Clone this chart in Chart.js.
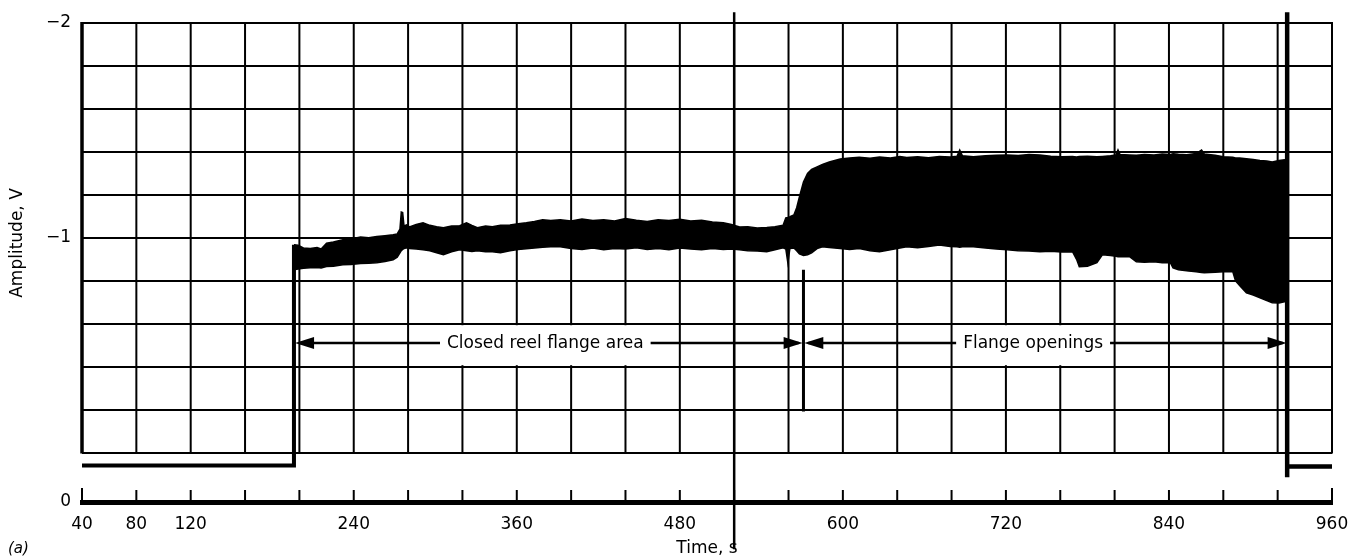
<!DOCTYPE html>
<html>
<head>
<meta charset="utf-8">
<script src="https://cdn.jsdelivr.net/npm/chart.js@4.4.1/dist/chart.umd.min.js"></script>
<style>
  html, body { margin: 0; padding: 0; background: #fff; }
  #wrap { width: 1363px; height: 559px; position: relative; }
</style>
</head>
<body>
<div id="wrap"><canvas id="c"></canvas></div>
<script>
// ---------- data ----------
const xMin = 40, xMax = 960, xStep = 40;
const xTickLabels = [40, 80, 120, 240, 360, 480, 600, 720, 840, 960];
const yMin = -2, yAxisBottom = 0.23;
const yGridValues = [-2, -1.8, -1.6, -1.4, -1.2, -1, -0.8, -0.6, -0.4, -0.2, 0];
const yLabelValues = [-2, -1, 0.23];
const yLabelTexts = ['\u22122', '\u22121', '0'];

// time (s) of the noisy band and its upper / lower envelope (V)
const bandTime = [196, 199, 203, 208, 213, 216, 220, 225, 232, 238, 245, 251, 257, 263, 269, 272, 274, 275, 276, 277, 279, 281, 286, 291, 296, 301, 306, 312, 318, 323, 327, 331, 337, 342, 348, 355, 361, 367, 373, 379, 385, 392, 400, 408, 416, 424, 432, 440, 448, 456, 464, 472, 480, 488, 496, 504, 512, 518, 524, 530, 537, 544, 550, 556, 558, 559.5, 561, 564, 566, 568, 571, 574, 577, 581, 585, 590, 598, 605, 612, 620, 627, 635, 642, 647, 655, 663, 671, 679, 684, 686, 688, 696, 705, 713, 721, 729, 737, 745, 753, 761, 769, 772, 774, 780, 787, 791, 797, 801, 802.5, 804, 811, 816, 822, 829, 835, 841, 843, 847, 853, 860, 864, 866, 874, 880, 887, 889, 892, 897, 902, 907, 912, 916, 921, 925, 927];
const bandTop = [-0.968, -0.965, -0.953, -0.950, -0.955, -0.948, -0.975, -0.980, -0.991, -0.995, -1.004, -1.000, -1.006, -1.010, -1.014, -1.018, -1.040, -1.120, -1.118, -1.055, -1.060, -1.051, -1.062, -1.070, -1.058, -1.052, -1.047, -1.055, -1.056, -1.070, -1.058, -1.047, -1.055, -1.051, -1.058, -1.060, -1.066, -1.070, -1.076, -1.084, -1.080, -1.084, -1.078, -1.088, -1.080, -1.084, -1.078, -1.090, -1.082, -1.076, -1.084, -1.080, -1.086, -1.078, -1.082, -1.074, -1.070, -1.062, -1.050, -1.052, -1.046, -1.048, -1.052, -1.058, -1.093, -1.095, -1.098, -1.107, -1.140, -1.190, -1.260, -1.300, -1.318, -1.330, -1.342, -1.353, -1.367, -1.372, -1.375, -1.370, -1.376, -1.372, -1.378, -1.374, -1.377, -1.373, -1.378, -1.376, -1.380, -1.409, -1.382, -1.377, -1.382, -1.384, -1.386, -1.383, -1.388, -1.386, -1.380, -1.377, -1.378, -1.376, -1.378, -1.380, -1.377, -1.379, -1.382, -1.386, -1.409, -1.388, -1.386, -1.384, -1.388, -1.385, -1.390, -1.388, -1.391, -1.389, -1.387, -1.392, -1.409, -1.390, -1.384, -1.377, -1.375, -1.372, -1.372, -1.368, -1.364, -1.360, -1.358, -1.353, -1.360, -1.363, -1.360];
const bandBottom = [-0.851, -0.855, -0.858, -0.860, -0.862, -0.860, -0.866, -0.868, -0.874, -0.876, -0.880, -0.882, -0.884, -0.890, -0.898, -0.910, -0.930, -0.940, -0.946, -0.950, -0.953, -0.950, -0.948, -0.944, -0.940, -0.930, -0.921, -0.935, -0.944, -0.940, -0.936, -0.940, -0.935, -0.935, -0.930, -0.940, -0.945, -0.949, -0.952, -0.956, -0.958, -0.958, -0.950, -0.946, -0.952, -0.944, -0.950, -0.948, -0.954, -0.946, -0.950, -0.944, -0.952, -0.948, -0.944, -0.950, -0.946, -0.948, -0.944, -0.940, -0.938, -0.935, -0.944, -0.953, -0.948, -0.884, -0.950, -0.953, -0.940, -0.925, -0.918, -0.921, -0.930, -0.950, -0.958, -0.955, -0.950, -0.946, -0.950, -0.940, -0.935, -0.944, -0.952, -0.958, -0.954, -0.960, -0.967, -0.960, -0.958, -0.956, -0.958, -0.958, -0.952, -0.948, -0.944, -0.940, -0.938, -0.935, -0.937, -0.934, -0.935, -0.900, -0.865, -0.868, -0.884, -0.921, -0.918, -0.914, -0.912, -0.912, -0.912, -0.888, -0.886, -0.888, -0.884, -0.884, -0.860, -0.851, -0.846, -0.842, -0.838, -0.837, -0.840, -0.842, -0.842, -0.800, -0.778, -0.744, -0.734, -0.721, -0.708, -0.698, -0.696, -0.702, -0.705];

// low level before the step, and the end of the record
const baseTime = [40, 196, 196];
const baseValue = [0.06, 0.06, -0.968];
const endTime = [927, 927, 927, 960];
const endValue = [-2.05, 0.115, 0.065, 0.065];
// centre marker and the split marker between the two areas
const centreTime = [520, 520];
const centreValue = [-2.05, 0.45];
const splitTime = [571, 571];
const splitValue = [-0.851, -0.191];

// span annotations
const spanFrom = [196.8, 571.6];
const spanTo = [570.4, 926.6];
const spanText = ['Closed reel flange area', 'Flange openings'];
const spanTextAt = [381, 740];
const spanLevel = -0.51;

// ---------- drawing ----------
const FONT = "'DejaVu Sans', 'Liberation Sans', sans-serif";
const INK = '#000';
const pts = (xs, ys) => xs.map((x, i) => ({ x: x, y: ys[i] }));

const scopeGrid = {
  id: 'scopeGrid',
  beforeDatasetsDraw(chart) {
    const { ctx } = chart;
    const x = chart.scales.x, y = chart.scales.y;
    const top = y.getPixelForValue(yMin), bottom = y.getPixelForValue(0);
    ctx.save();
    ctx.strokeStyle = INK;
    x.ticks.forEach((t, i) => {
      const px = x.getPixelForValue(t.value);
      ctx.lineWidth = i === 0 ? 3.5 : 2;
      ctx.beginPath();
      ctx.moveTo(px, top - 1);
      ctx.lineTo(px, bottom + 1);
      ctx.stroke();
    });
    ctx.restore();
  },
  afterDraw(chart) {
    const { ctx, chartArea } = chart;
    const x = chart.scales.x;
    ctx.save();
    ctx.strokeStyle = INK;
    ctx.lineWidth = 2;
    const n = x.ticks.length;
    x.ticks.forEach((t, i) => {
      const px = x.getPixelForValue(t.value);
      const len = (i === 0 || i === n - 1) ? 14 : 12;
      ctx.beginPath();
      ctx.moveTo(px, chartArea.bottom);
      ctx.lineTo(px, chartArea.bottom - len);
      ctx.stroke();
    });
    // axis title and panel letter
    ctx.fillStyle = INK;
    ctx.font = '17px ' + FONT;
    ctx.textAlign = 'center';
    ctx.textBaseline = 'middle';
    ctx.translate(18, 243);
    ctx.rotate(-Math.PI / 2);
    ctx.fillText('Amplitude, V', 0, 0);
    ctx.restore();
    ctx.save();
    ctx.fillStyle = INK;
    ctx.font = 'italic 15px ' + FONT;
    ctx.textAlign = 'left';
    ctx.textBaseline = 'middle';
    ctx.fillText('(a)', 8, 549);
    ctx.restore();
  }
};

const spans = {
  id: 'spans',
  afterDatasetsDraw(chart) {
    const { ctx } = chart;
    const x = chart.scales.x, y = chart.scales.y;
    const py = y.getPixelForValue(spanLevel);
    const boxTop = y.getPixelForValue(-0.6) + 1.5;
    const boxBot = y.getPixelForValue(-0.4) - 1.5;
    ctx.save();
    ctx.font = '17px ' + FONT;
    ctx.textAlign = 'center';
    ctx.textBaseline = 'middle';
    spanText.forEach((label, i) => {
      const x1 = x.getPixelForValue(spanFrom[i]);
      const x2 = x.getPixelForValue(spanTo[i]);
      const cx = x.getPixelForValue(spanTextAt[i]);
      const w = ctx.measureText(label).width;
      const gap = 7;
      const l = cx - w / 2 - gap, r = cx + w / 2 + gap;
      ctx.fillStyle = '#fff';
      ctx.fillRect(l, boxTop, r - l, boxBot - boxTop);
      ctx.strokeStyle = INK;
      ctx.lineWidth = 2.5;
      ctx.beginPath();
      ctx.moveTo(x1 + 4, py); ctx.lineTo(l, py);
      ctx.moveTo(r, py); ctx.lineTo(x2 - 4, py);
      ctx.stroke();
      ctx.fillStyle = INK;
      ctx.beginPath();
      ctx.moveTo(x1, py); ctx.lineTo(x1 + 19, py - 6); ctx.lineTo(x1 + 19, py + 6); ctx.closePath();
      ctx.fill();
      ctx.beginPath();
      ctx.moveTo(x2, py); ctx.lineTo(x2 - 19, py - 6); ctx.lineTo(x2 - 19, py + 6); ctx.closePath();
      ctx.fill();
      ctx.fillText(label, cx, py + 1);
    });
    ctx.restore();
  }
};

const lineSet = (label, data, width, extra) => Object.assign({
  label: label, data: data, borderColor: INK, borderWidth: width,
  pointRadius: 0, fill: false, tension: 0
}, extra || {});

new Chart(document.getElementById('c'), {
  type: 'line',
  data: {
    datasets: [
      lineSet('band top', pts(bandTime, bandTop), 1.5),
      lineSet('band bottom', pts(bandTime, bandBottom), 1.5, { fill: '-1', backgroundColor: INK }),
      lineSet('baseline', pts(baseTime, baseValue), 4),
      lineSet('end', pts(endTime, endValue), 4.5, { clip: false }),
      lineSet('centre', pts(centreTime, centreValue), 2.5, { clip: false }),
      lineSet('split', pts(splitTime, splitValue), 3)
    ]
  },
  options: {
    responsive: true,
    maintainAspectRatio: false,
    animation: false,
    layout: { padding: { left: 0, right: 31, top: 23, bottom: 0 } },
    plugins: { legend: { display: false }, tooltip: { enabled: false } },
    scales: {
      x: {
        type: 'linear', min: xMin, max: xMax,
        ticks: {
          stepSize: xStep, autoSkip: false, maxRotation: 0, padding: 12,
          color: INK, font: { family: FONT, size: 17 },
          callback: v => xTickLabels.includes(v) ? String(v) : ''
        },
        grid: { display: true, drawOnChartArea: false, drawTicks: false },
        border: { display: true, color: INK, width: 5 },
        title: { display: true, text: 'Time, s', color: INK, font: { family: FONT, size: 17 }, padding: { top: 0, bottom: 0 } },
        afterFit: s => { s.height = 57; }
      },
      y: {
        type: 'linear', reverse: true, min: yMin, max: yAxisBottom,
        afterBuildTicks: s => { s.ticks = yGridValues.concat([yAxisBottom]).map(v => ({ value: v })); },
        ticks: {
          autoSkip: false, padding: 11, color: INK, font: { family: FONT, size: 17 },
          callback: v => { const i = yLabelValues.indexOf(v); return i >= 0 ? yLabelTexts[i] : ''; }
        },
        grid: {
          color: c => (c.tick && c.tick.value > 0.01) ? 'rgba(0,0,0,0)' : INK,
          lineWidth: 2, drawTicks: false
        },
        border: { display: false },
        afterFit: s => { s.width = 82; }
      }
    }
  },
  plugins: [scopeGrid, spans]
});
</script>
</body>
</html>
